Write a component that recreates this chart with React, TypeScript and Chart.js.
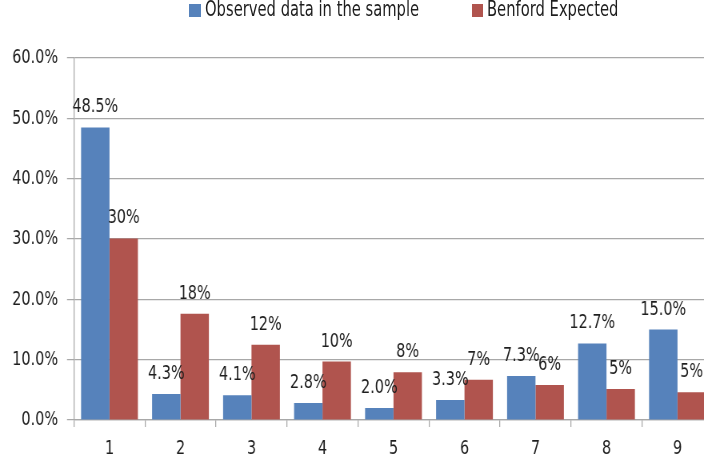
import React, { useEffect, useRef } from "react";
import { Chart, registerables } from "chart.js";

Chart.register(...registerables);

const categories = ["1", "2", "3", "4", "5", "6", "7", "8", "9"];
const observed = [48.5, 4.3, 4.1, 2.8, 2.0, 3.3, 7.3, 12.7, 15.0];
const benford = [30.1, 17.61, 12.49, 9.69, 7.92, 6.69, 5.8, 5.12, 4.58];
const seriesNames = ["Observed data in the sample", "Benford Expected"];
const seriesColors = ["#5682BB", "#B0544E"];
const yTicks = { min: 0, max: 60, step: 10 };

// The reference is a vertically stretched picture: the chart is laid out at
// 716x372 and shown at 716x465 (vertical factor 1.25).
const SY = 1.25;
const W = 716;
const H = 372;

const FONT = "'DejaVu Sans Condensed', 'DejaVu Sans', sans-serif";
const TEXT = "#1e1e1e";
const GRID = "#a8a8a8";

const labelPlugin = {
  id: "barLabels",
  afterDatasetsDraw(chart: any) {
    const ctx = chart.ctx;
    ctx.save();
    ctx.font = `16px ${FONT}`;
    ctx.fillStyle = TEXT;
    ctx.textAlign = "center";
    ctx.textBaseline = "alphabetic";
    chart.data.datasets.forEach((ds: any, di: number) => {
      const meta = chart.getDatasetMeta(di);
      meta.data.forEach((bar: any, i: number) => {
        const v = ds.data[i] as number;
        const txt = di === 0 ? v.toFixed(1) + "%" : v.toFixed(0) + "%";
        ctx.fillText(txt, bar.x, bar.y - 12);
      });
    });
    ctx.restore();
  },
};

export default function App() {
  const ref = useRef<HTMLCanvasElement | null>(null);
  useEffect(() => {
    document.body.style.margin = "0";
    document.body.style.overflow = "hidden";
    const chart = new Chart(ref.current as HTMLCanvasElement, {
      type: "bar",
      data: {
        labels: categories,
        datasets: [
          { label: seriesNames[0], data: observed, backgroundColor: seriesColors[0], borderWidth: 0 },
          { label: seriesNames[1], data: benford, backgroundColor: seriesColors[1], borderWidth: 0 },
        ],
      },
      options: {
        responsive: false,
        animation: false,
        devicePixelRatio: SY,
        layout: { padding: { top: 46.4, right: 3, left: 0, bottom: 0 } },
        datasets: { bar: { categoryPercentage: 0.8, barPercentage: 1.0 } },
        plugins: { legend: { display: false }, tooltip: { enabled: false } },
        scales: {
          x: {
            offset: true,
            grid: { offset: true, drawOnChartArea: false, tickLength: 5.6, color: GRID },
            border: { color: GRID },
            ticks: { color: TEXT, font: { family: FONT, size: 16 }, padding: 8 },
            afterFit: (s: any) => { s.height = 36; },
          },
          y: {
            min: yTicks.min,
            max: yTicks.max,
            ticks: {
              stepSize: yTicks.step,
              color: TEXT,
              font: { family: FONT, size: 16 },
              padding: 9,
              callback: (v: any) => Number(v).toFixed(1) + "%",
            },
            grid: { color: GRID, tickLength: 7 },
            border: { color: GRID },
            afterFit: (s: any) => { s.width = 74; },
          },
        },
      },
      plugins: [labelPlugin],
    });
    return () => chart.destroy();
  }, []);

  const textStyle: React.CSSProperties = {
    position: "absolute",
    top: 0,
    fontFamily: FONT,
    fontSize: 16.4,
    lineHeight: "16px",
    color: TEXT,
    whiteSpace: "nowrap",
    transform: `scaleY(${SY})`,
    transformOrigin: "0 0",
  };

  return (
    <div style={{ position: "fixed", left: 0, top: 0, width: 704, height: 465, overflow: "hidden", background: "#fff" }}>
      <canvas
        ref={ref}
        width={W}
        height={H}
        style={{ position: "absolute", left: 0, top: 0, width: W, height: H * SY }}
      />
      <div style={{ position: "absolute", left: 189, top: 4, width: 12, height: 13, background: seriesColors[0] }} />
      <span style={{ ...textStyle, left: 205 }}>{seriesNames[0]}</span>
      <div style={{ position: "absolute", left: 472, top: 4, width: 11, height: 13, background: seriesColors[1] }} />
      <span style={{ ...textStyle, left: 487 }}>{seriesNames[1]}</span>
    </div>
  );
}
